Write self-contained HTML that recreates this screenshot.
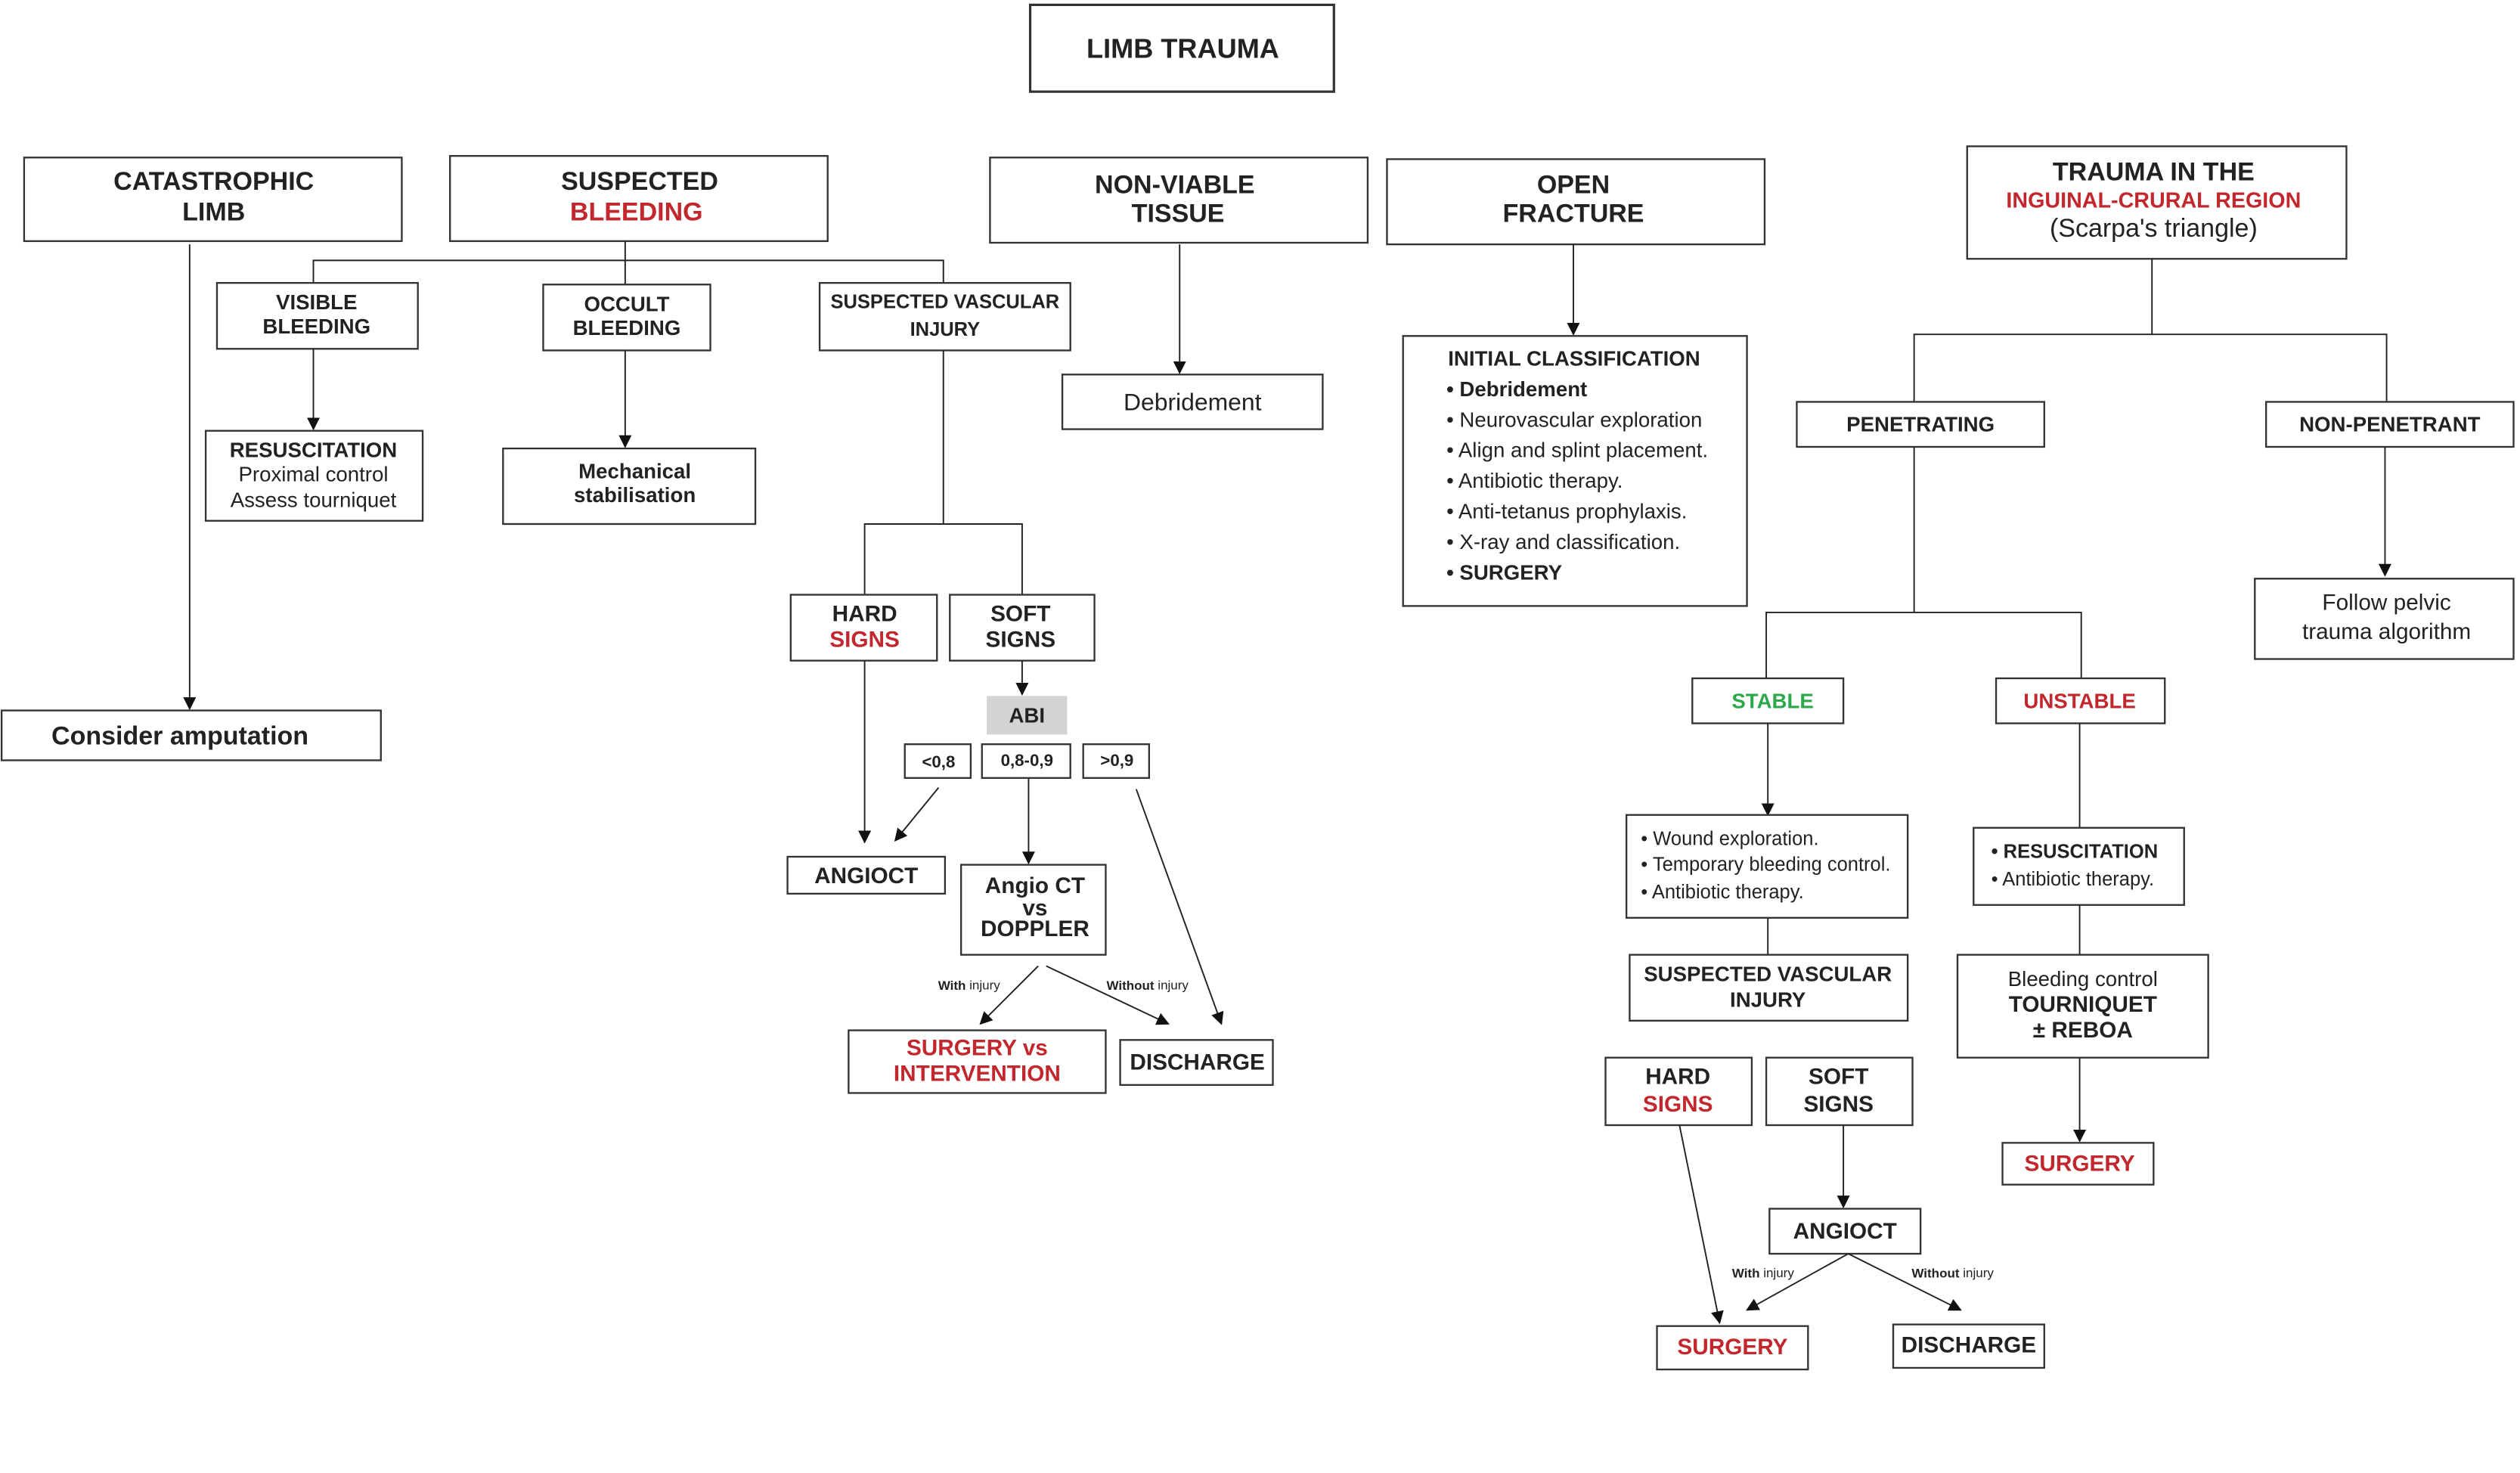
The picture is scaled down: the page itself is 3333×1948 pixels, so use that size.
<!DOCTYPE html>
<html><head><meta charset="utf-8"><style>
html,body{margin:0;padding:0;background:#fff;}
svg{display:block;}
text{font-family:"Liberation Sans",Arial,sans-serif;fill:#222;}
.b{font-weight:bold;}
.r{fill:#c1272d;}
.g{fill:#2aa84a;}
rect{fill:#fff;stroke:#333;stroke-width:1.1;}
line,polyline{stroke:#222;stroke-width:0.9;fill:none;}
</style></head><body>
<svg width="3333" height="1948" viewBox="0 0 1568 916.4" xmlns="http://www.w3.org/2000/svg">
<defs><marker id="a" viewBox="0 0 10 10" refX="9" refY="5" markerWidth="8" markerHeight="8" markerUnits="userSpaceOnUse" orient="auto"><path d="M0,0 L10,5 L0,10 z" fill="#111"/></marker></defs>
<g text-anchor="middle" dominant-baseline="central">
<rect x="641" y="3" width="189" height="54" style="stroke-width:1.5"/>
<text x="736" y="30" font-size="17" class="b">LIMB TRAUMA</text>

<rect x="15" y="98" width="235" height="52"/>
<text x="133" y="113" font-size="16" class="b">CATASTROPHIC</text>
<text x="133" y="132" font-size="16" class="b">LIMB</text>
<rect x="280" y="97" width="235" height="53"/>
<text x="398" y="113" font-size="16" class="b">SUSPECTED</text>
<text x="396" y="132" font-size="16" class="b r">BLEEDING</text>
<rect x="616" y="98" width="235" height="53"/>
<text x="731" y="115" font-size="16" class="b">NON-VIABLE</text>
<text x="733" y="133" font-size="16" class="b">TISSUE</text>
<rect x="863" y="99" width="235" height="53"/>
<text x="979" y="115" font-size="16" class="b">OPEN</text>
<text x="979" y="133" font-size="16" class="b">FRACTURE</text>
<rect x="1224" y="91" width="236" height="70"/>
<text x="1340" y="107" font-size="16" class="b">TRAUMA IN THE</text>
<text x="1340" y="125" font-size="13.5" class="b r">INGUINAL-CRURAL REGION</text>
<text x="1340" y="142" font-size="16">(Scarpa's triangle)</text>

<line x1="118" y1="152" x2="118" y2="441" marker-end="url(#a)"/>
<rect x="1" y="442" width="236" height="31"/>
<text x="112" y="458" font-size="16" class="b">Consider amputation</text>

<polyline points="389,150 389,162"/>
<polyline points="195,176 195,162 587,162 587,176"/>
<line x1="389" y1="162" x2="389" y2="177"/>
<rect x="135" y="176" width="125" height="41"/>
<text x="197" y="188" font-size="13" class="b">VISIBLE</text>
<text x="197" y="203" font-size="13" class="b">BLEEDING</text>
<line x1="195" y1="217" x2="195" y2="267" marker-end="url(#a)"/>
<rect x="128" y="268" width="135" height="56"/>
<text x="195" y="280" font-size="13" class="b">RESUSCITATION</text>
<text x="195" y="295" font-size="13">Proximal control</text>
<text x="195" y="311" font-size="13">Assess tourniquet</text>
<rect x="338" y="177" width="104" height="41"/>
<text x="390" y="189" font-size="13" class="b">OCCULT</text>
<text x="390" y="204" font-size="13" class="b">BLEEDING</text>
<line x1="389" y1="218" x2="389" y2="278" marker-end="url(#a)"/>
<rect x="313" y="279" width="157" height="47"/>
<text x="395" y="293" font-size="13" class="b">Mechanical</text>
<text x="395" y="308" font-size="13" class="b">stabilisation</text>
<rect x="510" y="176" width="156" height="42"/>
<text x="588" y="188" font-size="12" class="b">SUSPECTED VASCULAR</text>
<text x="588" y="205" font-size="12" class="b">INJURY</text>
<polyline points="587,218 587,326"/>
<polyline points="538,370 538,326 636,326 636,370"/>
<rect x="492" y="370" width="91" height="41"/>
<text x="538" y="382" font-size="14" class="b">HARD</text>
<text x="538" y="398" font-size="14" class="b r">SIGNS</text>
<rect x="591" y="370" width="90" height="41"/>
<text x="635" y="382" font-size="14" class="b">SOFT</text>
<text x="635" y="398" font-size="14" class="b">SIGNS</text>
<line x1="538" y1="411" x2="538" y2="524" marker-end="url(#a)"/>
<line x1="636" y1="411" x2="636" y2="432" marker-end="url(#a)"/>
<rect x="614" y="433" width="50" height="24" style="fill:#d3d3d3;stroke:none"/>
<text x="639" y="445" font-size="13" class="b">ABI</text>
<rect x="563" y="463" width="41" height="21"/>
<text x="584" y="474" font-size="10.5" class="b">&lt;0,8</text>
<rect x="611" y="463" width="55" height="21"/>
<text x="639" y="473" font-size="10.5" class="b">0,8-0,9</text>
<rect x="674" y="463" width="41" height="21"/>
<text x="695" y="473" font-size="10.5" class="b">&gt;0,9</text>
<line x1="584" y1="490" x2="557" y2="523" marker-end="url(#a)"/>
<line x1="640" y1="484" x2="640" y2="537" marker-end="url(#a)"/>
<line x1="707" y1="491" x2="760" y2="637" marker-end="url(#a)"/>
<rect x="490" y="533" width="98" height="23"/>
<text x="539" y="545" font-size="14" class="b">ANGIOCT</text>
<rect x="598" y="538" width="90" height="56"/>
<text x="644" y="551" font-size="14" class="b">Angio CT</text>
<text x="644" y="565" font-size="14" class="b">vs</text>
<text x="644" y="578" font-size="14" class="b">DOPPLER</text>
<line x1="646" y1="601" x2="610" y2="637" marker-end="url(#a)"/>
<line x1="651" y1="601" x2="727" y2="637" marker-end="url(#a)"/>
<text x="603" y="613" font-size="8"><tspan class="b">With</tspan> injury</text>
<text x="714" y="613" font-size="8"><tspan class="b">Without</tspan> injury</text>
<rect x="528" y="641" width="160" height="39"/>
<text x="608" y="652" font-size="14" class="b r">SURGERY vs</text>
<text x="608" y="668" font-size="14" class="b r">INTERVENTION</text>
<rect x="697" y="647" width="95" height="28"/>
<text x="745" y="661" font-size="14" class="b">DISCHARGE</text>

<line x1="734" y1="152" x2="734" y2="232" marker-end="url(#a)"/>
<rect x="661" y="233" width="162" height="34"/>
<text x="742" y="250" font-size="15">Debridement</text>

<line x1="979" y1="152" x2="979" y2="208" marker-end="url(#a)"/>
<rect x="873" y="209" width="214" height="168"/>

<line x1="1339" y1="161" x2="1339" y2="208"/>
<polyline points="1191,250 1191,208 1485,208 1485,250"/>
<rect x="1118" y="250" width="154" height="28"/>
<text x="1195" y="264" font-size="13" class="b">PENETRATING</text>
<rect x="1410" y="250" width="154" height="28"/>
<text x="1487" y="264" font-size="13" class="b">NON-PENETRANT</text>
<line x1="1484" y1="278" x2="1484" y2="358" marker-end="url(#a)"/>
<rect x="1403" y="360" width="161" height="50"/>
<text x="1485" y="375" font-size="14">Follow pelvic</text>
<text x="1485" y="393" font-size="14">trauma algorithm</text>
<line x1="1191" y1="278" x2="1191" y2="381"/>
<polyline points="1099,422 1099,381 1295,381 1295,422"/>
<rect x="1053" y="422" width="94" height="28"/>
<text x="1103" y="436" font-size="13" class="b g">STABLE</text>
<rect x="1242" y="422" width="105" height="28"/>
<text x="1294" y="436" font-size="13" class="b r">UNSTABLE</text>
<line x1="1100" y1="450" x2="1100" y2="507" marker-end="url(#a)"/>
<rect x="1012" y="507" width="175" height="64"/>
<line x1="1294" y1="450" x2="1294" y2="515"/>
<rect x="1228" y="515" width="131" height="48"/>
</g>
<g font-size="13" dominant-baseline="central">
<text x="901" y="223" class="b">INITIAL CLASSIFICATION</text>
<text x="900" y="242" class="b">• Debridement</text>
<text x="900" y="261">• Neurovascular exploration</text>
<text x="900" y="280">• Align and splint placement.</text>
<text x="900" y="299">• Antibiotic therapy.</text>
<text x="900" y="318">• Anti-tetanus prophylaxis.</text>
<text x="900" y="337">• X-ray and classification.</text>
<text x="900" y="356" class="b">• SURGERY</text>
</g>
<g font-size="12" dominant-baseline="central">
<text x="1021" y="522">• Wound exploration.</text>
<text x="1021" y="538">• Temporary bleeding control.</text>
<text x="1021" y="555">• Antibiotic therapy.</text>
<text x="1239" y="530" class="b">• RESUSCITATION</text>
<text x="1239" y="547">• Antibiotic therapy.</text>
</g>
<g text-anchor="middle" dominant-baseline="central">
<line x1="1100" y1="571" x2="1100" y2="594"/>
<rect x="1014" y="594" width="173" height="41"/>
<text x="1100" y="606" font-size="13" class="b">SUSPECTED VASCULAR</text>
<text x="1100" y="622" font-size="13" class="b">INJURY</text>
<rect x="999" y="658" width="91" height="42"/>
<text x="1044" y="670" font-size="14" class="b">HARD</text>
<text x="1044" y="687" font-size="14" class="b r">SIGNS</text>
<rect x="1099" y="658" width="91" height="42"/>
<text x="1144" y="670" font-size="14" class="b">SOFT</text>
<text x="1144" y="687" font-size="14" class="b">SIGNS</text>
<line x1="1045" y1="700" x2="1070" y2="823" marker-end="url(#a)"/>
<line x1="1147" y1="700" x2="1147" y2="751" marker-end="url(#a)"/>
<rect x="1101" y="752" width="94" height="28"/>
<text x="1148" y="766" font-size="14" class="b">ANGIOCT</text>
<line x1="1150" y1="780" x2="1087" y2="815" marker-end="url(#a)"/>
<line x1="1150" y1="780" x2="1220" y2="815" marker-end="url(#a)"/>
<text x="1097" y="792" font-size="8"><tspan class="b">With</tspan> injury</text>
<text x="1215" y="792" font-size="8"><tspan class="b">Without</tspan> injury</text>
<rect x="1031" y="825" width="94" height="27"/>
<text x="1078" y="838" font-size="14" class="b r">SURGERY</text>
<rect x="1178" y="824" width="94" height="27"/>
<text x="1225" y="837" font-size="14" class="b">DISCHARGE</text>
<line x1="1294" y1="563" x2="1294" y2="594"/>
<rect x="1218" y="594" width="156" height="64"/>
<text x="1296" y="609" font-size="13">Bleeding control</text>
<text x="1296" y="625" font-size="14" class="b">TOURNIQUET</text>
<text x="1296" y="641" font-size="14" class="b">± REBOA</text>
<line x1="1294" y1="658" x2="1294" y2="710" marker-end="url(#a)"/>
<rect x="1246" y="711" width="94" height="26"/>
<text x="1294" y="724" font-size="14" class="b r">SURGERY</text>
</g>
</svg>
</body></html>
